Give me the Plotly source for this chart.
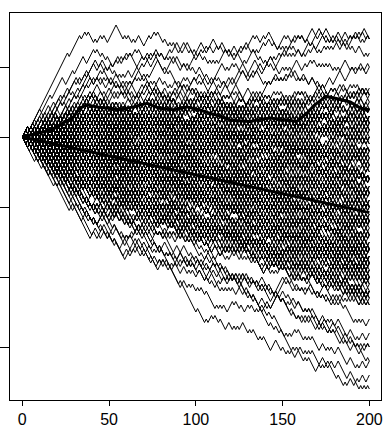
import plotly.graph_objects as go

# Each walk: hex digits, every digit = 4 steps (bit 1 = step up, bit 0 = step down, MSB first)
walk_steps_hex = [
    "7FFFFFDFB4 5A7C2963B4 4A2C96B34A 5B7A6C1E96 9E3615CAD2",
    "BFDF7E7BE7 A48D6C3B59 2A194C18B3 7A7C3EB6D2 7A2D59DB38",
    "EEB7DD7D7B C96EB5A2B5 3B9A2E5C61 3D8AEC957A 93E158A4C5",
    "EBDE7BDEB7 9C4835E412 C648D385B1 8184C9E422 C5716A9D38",
    "7CBD67BDEB 6A92C25E8A 96B3E5C7E5 A61B9E3D56 5B7A6C1E96",
    "DA7EBD6D7E 7A2D59DB38 48294A4153 A5194C7D24 5628A1C4A6",
    "BD67BDEB7C A4D2824815 386A852B95 6D2A95C4E3 C96EB5A2B5",
    "5EB5E7AD3D E1C5BDAB7C 3D8AEC957A C178924D48 A61B9E3D56",
    "77E9E2B5DB 4A2C96B34A A85C28463A 93E158A4C5 4B4A512C92",
    "3EEBA5DBD5 5A7C2963B4 5B7A6C1E96 9E3615CAD2 C648D385B1",
    "5E7AD3D5EB 2A194C18B3 6A92C25E8A 286A84492A A5194C7D24",
    "9E2B5DB77E 84841B4A26 A48D6C3B59 386A852B95 8184C9E422",
    "A9E3B565D7 7A2D59DB38 4A2C96B34A 93E158A4C5 3B9A2E5C61",
    "3EB6D27A7C C648D385B1 48294A4153 9C4835E412 6A92C25E8A",
    "5C7E596B3E C5716A9D38 C96EB5A2B5 E1C5BDAB7C 6D2A95C4E3",
    "3B565D7A9E 5628A1C4A6 A5194C7D24 5A7C2963B4 A4D2824815",
    "6D27A7C3EB 386A852B95 4A2C96B34A C178924D48 3D8AEC957A",
    "E596B3E5C7 482844815A 93E158A4C5 C648D385B1 A85C28463A",
    "CE1C5BDAB7 5D7A9E3B56 4B4A512C92 286A84492A 6A92C25E8A",
    "A61B9E3D56 A5194C7D24 2A194C18B3 5B7A6C1E96 84841B4A26",
    "A2D59DB387 C96EB5A2B5 9E3615CAD2 386A852B95 7A7C3EB6D2",
    "8AEC957A3D 8184C9E422 9C4835E412 4A2C96B34A 5628A1C4A6",
    "B9E3D56A61 A48D6C3B59 93E158A4C5 C178924D48 C648D385B1",
    "6C1E965B7A A85C28463A 7A2D59DB38 6A92C25E8A 4B4A512C92",
    "5A2B5C96EB A5194C7D24 48294A4153 2A194C18B3 386A852B95",
    "957A3D8AEC 96B3E5C7E5 4A2C96B34A A61B9E3D56 93E158A4C5",
    "E965B7A6C1 9C4835E412 5628A1C4A6 3B9A2E5C61 A4D2824815",
    "387A2D59DB C648D385B1 C5716A9D38 6A92C25E8A 6D2A95C4E3",
    "45A7C2963B A5194C7D24 C178924D48 386A852B95 4A2C96B34A",
    "9E3615CAD2 C96EB5A2B5 93E158A4C5 286A84492A A85C28463A",
    "48D6C3B59A 4B4A512C92 3D8AEC957A C648D385B1 A61B9E3D56",
    "9A2E5C613B 84841B4A26 6A92C25E8A 2A194C18B3 A5194C7D24",
    "16A9D38C57 6D2A95C4E3 9C4835E412 5B7A6C1E96 5628A1C4A6",
    "2963B45A7C E1C5BDAB7C 7A2D59DB38 386A852B95 4A2C96B34A",
    "5CAD29E361 93E158A4C5 8184C9E422 C648D385B1 48294A4153",
    "3B59A48D6C C178924D48 6A92C25E8A 5D7A9E3B56 A85C28463A",
    "C613B9A2E5 A5194C7D24 C5716A9D38 A4D2824815 386A852B95",
    "E36D2A95C4 C96EB5A2B5 4B4A512C92 4A2C96B34A 286A84492A",
    "963B45A7C2 2884E41882 93E158A4C5 C648D385B1 9E3615CAD2",
    "6A92C25E8A A48D6C3B59 A5194C7D24 2A194C18B3 3D8AEC957A",
    "86A852B953 9C4835E412 5628A1C4A6 4A2C96B34A C178924D48",
    "E158A4C593 A61B9E3D56 3B9A2E5C61 C648D385B1 6A92C25E8A",
    "94C7D24A51 386A852B95 84841B4A26 A85C28463A 4A2C96B34A",
    "58A4C593E1 8184C9E422 5B7A6C1E96 4B4A512C92 C648D385B1",
    "25E8A6A92C 7A7C3EB6D2 A5194C7D24 C5716A9D38 2A194C18B3",
    "2B95386A85 4A2C96B34A 93E158A4C5 48294A4153 9C4835E412",
    "5B1C648D38 6D2A95C4E3 5628A1C4A6 7A2D59DB38 6A92C25E8A",
    "24A5194C7D C178924D48 386A852B95 4A2C96B34A A4D2824815",
    "593E158A4C C648D385B1 96B3E5C7E5 A85C28463A 6A92C25E8A",
    "A5194C7D24 286A84492A 4B4A512C92 386A852B95 2A194C18B3",
    "A2C96B34A4 C96EB5A2B5 9C4835E412 84841B4A26 93E158A4C5",
    "28A1C4A656 C648D385B1 6A92C25E8A 5A7C2963B4 C178924D48",
    "C28463AA85 3D8AEC957A 8184C9E422 A5194C7D24 386A852B95",
    "512C924B4A 2A194C18B3 9E3615CAD2 9C4835E412 48294A4153",
    "1C4A65628A A48D6C3B59 4A2C96B34A E1C5BDAB7C 93E158A4C5",
    "4D48C17892 A4D2824815 A85C28463A C648D385B1 6A92C25E8A",
    "C924B4A512 5D7A9E3B56 A5194C7D24 2A194C18B3 9C4835E412",
    "A65628A1C4 386A852B95 C178924D48 286A84492A 3B9A2E5C61",
    "AA85C28463 4B4A512C92 A61B9E3D56 4A2C96B34A 2A194C18B3",
    "9C4835E412 C5716A9D38 5628A1C4A6 93E158A4C5 5B7A6C1E96",
    "178924D48C C648D385B1 6A92C25E8A A85C28463A 84841B4A26",
    "4A512C924B 84184C2843 A5194C7D24 6D2A95C4E3 2A194C18B3",
    "835E4129C4 7A2D59DB38 5A7C2963B4 386A852B95 5628A1C4A6",
    "C9E4228184 4A2C96B34A C178924D48 93E158A4C5 C648D385B1",
    "A415348294 C96EB5A2B5 6A92C25E8A A4D2824815 A85C28463A",
    "492A286A84 4B4A512C92 84841B4A26 A5194C7D24 2A194C18B3",
    "4228184C9E 9E3615CAD2 3D8AEC957A 9C4835E412 386A852B95",
    "5348294A41 A4D2824815 4A2C96B34A 5628A1C4A6 286A84492A",
    "684841B4A2 7A7C3EB6D2 C178924D48 A48D6C3B59 93E158A4C5",
    "8184C9E422 C648D385B1 6A92C25E8A 48294A4153 A5194C7D24",
    "4D2824815A A85C28463A 3B9A2E5C61 386A852B95 4B4A512C92",
    "6A84492A28 4A2C96B34A 84841B4A26 2A194C18B3 93E158A4C5",
    "4C9E422818 C5716A9D38 9C4835E412 A61B9E3D56 48294A4153",
    "824815A4D2 5B7A6C1E96 C648D385B1 6A92C25E8A 6D2A95C4E3",
    "4815A48284 A5194C7D24 5628A1C4A6 386A852B95 C178924D48",
    "18822884E4 96B3E5C7E5 5A7C2963B4 A85C28463A 4A2C96B34A",
    "84384184C2 4B4A512C92 93E158A4C5 A4D2824815 C648D385B1",
    "5A48284481 9E3615CAD2 84841B4A26 A48D6C3B59 2A194C18B3",
    "22884E4188 8184C9E422 6A92C25E8A 9C4835E412 48294A4153",
    "84184C2843 7A2D59DB38 A5194C7D24 386A852B95 5628A1C4A6",
    "82844815A4 4A2C96B34A C96EB5A2B5 A4D2824815 93E158A4C5",
    "84E4188228 C178924D48 A85C28463A C648D385B1 3B9A2E5C61",
    "84C2843841 C5716A9D38 6A92C25E8A 4B4A512C92 286A84492A",
    "44815A4828 2884E41882 2A194C18B3 A5194C7D24 9C4A35E612",
    "8412484812 386A852B95 4A2C96B34A 84841B4A26 5638A9C4A6",
    "4184281482 3D8AEC957A C178924D48 93E158A4C5 C648D385B1",
    "1248481284 A85C28463A 8184C9E422 4B4A512C92 2A194C18B3",
    "8428148241 6D2A95C4E3 6A92C25E8A A61B9E3D56 48294A4153",
    "4848128412 A4D2824815 286A84492A 9C4835E412 5628A1C4A6",
    "2814824184 E1C5BDAB7C A5194C7D24 C178924D48 386A852B95",
    "4812841248 4A2C96B34A A85C28463A 93E158A4C5 C648D385B1",
    "1482418428 4B4A512C92 5A7C2963B4 84841B4A26 5A85C9E45A",
    "1284124848 84184C2843 48294A4153 A4D2824815 2A194C18B3",
    "8408822810 9C4835E412 0010085A46 5628A1C4A6 286A84592A",
    "4801440812 9E3615CAD2 6A92C25E8A C178924D48 A48D6C3B59",
    "0882281084 84841B4A26 A5194C7D24 8184C9E422 A85C28463A",
    "0144081248 5B7A6C1E96 4B4A512C92 386A852B95 48294A4153",
    "8228108408 4A2C96B34A A4D2824815 482844815A 2A194C18B3",
    "8010201801 9C4835E412 93E158A4C5 5628A1C4A6 2884E41882",
    "2041080420 C648D385B1 C178924D48 6A92C25E8A A95C2A563A",
    "5BAD65EA95 A45B962AD5 5A6E59A15A 952AC75A46 5AD9A53B6A",
    "A579A45EA6 5A659AD53A A259BA5865 7A5D15AE95 5A94A56BA5",
    "E5A72B5AD9 59AD45A67A A15EA58B96 5A95A652A5 A5DA659A45",
    "5AE59A57A6 9A45D5A265 5BA856E5A1 A5A65B95A5 5A2A59E5A6",
    "D5A175A9E5 A54B5A25DA 59A5AE65A5 A85A7591A5 5AB5A5625A",
    "A752A5D95A 5A15E6A4B5 A5295AD58A 56A57A59A5 A59A15AB56",
    "5AD459A2E5 A51AB5645A 5EA58A759A A562A5DA59 5A5BA95A65",
    "A595EA56A5 52A5D9A54A AB51A57685 5AE954AD5A A56A5925A5",
    "5A795A6B5A A952AE5A15 5A5D6A58A5 4A752AB519 A5E25A98D5",
    "5A9E5A2A56 A54A759D52 5A85BA564A AE59A157A5 5A25DA958A",
    "A5B654AE5A 52A58DA519 A5A759A45A 5A1A5E952A A45BA58AD5",
    "5A45A752A9 A59AE5A515 5DA589AB5A A52A56A459 5A71A5E52A",
    "A52B5AD586 5A94A5EA15 A5A5625A95 5A7A59A54A A15AD59A25",
    "54A52AB58A A5E95A175A 5A2AD56A45 A595A85A65 5BA25A4E5A",
    "A5D25A94A5 58A57A519A A5E4A5B256 5A65A1A595 A45AB95A85",
    "5A6D5A95A5 A52A95A856 5A15EA54A9 A752A5D85A 52A45BA15A",
    "5A92AE54A5 A1B58AD52A 5A4A579A15 A525AD568A 5A59A54A56",
    "A54A59A25A 5EA15A8B5A A5D52A5A49 58A51BA52A A5A75A459A",
    "5AE59A15A5 A25AD45A85 5A715A952A A59A54A56A 51A5B8A54A",
    "A58AB59A25 5A45AE51A9 A529A5A58A 5DA45A72A5 A15A4D5A25",
    "5A2D58A54A A51A75A925 5A5A859A56 A45A95A15A 5AB52A54A9",
    "A5945AD51A 58A5EA254A A5A5B9A52A 5A1A595A85 A25A74A515",
    "5A52A95A45 A15AD58A25 5A45EA592A A5A958A5A5 54AB51A52A",
    "A59A52A565 5A754A51A9 A25A859A45 5A1AD5A256 A545A9A85A",
    "5A85B2A54A A5A5915A65 52AE5A458A A59A25A51A 5A4D58A529",
    "A452A758A1 5A5E2A594A A59A5A856A 51A54AB52A A5A2595A45",
    "5A9A45A52A A25DA85A15 5A4A752A85 A515A6A45A 58AE5A254A",
    "A54AD5925A 5A15A85A29 A45BA25A85 5A5A95A256 A154A7258A",
    "5A25A49A15 A85AE54A25 5A951A5A4A A257A85A45 5A5A29A585",
    "A51B5A452A 5A8A595A2A A45D2A5185 5A25EA54A9 A51A58A525",
    "5A4A5A925A A158A7524A 5A25D8A51A A54A52A985 52A5BA154A",
    "A451AB258A 5A95A25A4A A85AE15A25 5A51A9A585 A25A45A15A",
    "5A85A2594A A254DA158A 5A5A49A51A A52A785A45 51A5A29A45",
    "A52A4B51A5 5A8A545A29 A152AE458A 5A45A1A525 A59A85A52A",
    "52A85D4A15 A51A594A25 5A82A7541A A5A25A958A 54A5A15A29",
    "A452A58A15 5A15B2A54A A58A529A45 51A4E52A85 A5A945A52A",
    "54A152A854 A52DA45A15 5A85A15A2A A45A7258A5 5A2A54A519",
    "A59A25A54A 51A45B28A4 A52A585A1A 54AE152A85 A25A945A15",
    "5A254A158A A451AD852A 5A4A52A515 A85A259A4A 51A25B4A85",
    "A54A51A52A 52A85A451A A15A472A85 5A2A5849A5 A451EA258A",
    "58A2574A15 A51A52A549 54A58A251A A25A1D458A 5A415A2A85",
    "A1542B854A 5A25A85A1A A458AE152A 52A54A15A8 A5A452A515",
    "4A1528A452 5A84AD251A A52A5A458A 5A51A5A295 A4527A1854",
    "5A1A54A52A A2584AB154 5A451A2A58 A85A254A15 51A4AD258A",
    "A2541A582A 5A854A152A A15A4B258A 5A4A5A2519 A8514E2A45",
    "5A4A152A58 A258A7451A 5A15A8A425 A4521AD854 52A54A851A",
    "A14528A415 5A258A4A15 A54A525A8A 58A15E4A25 A45A152A85",
    "5A15D4A58A A5B25A8E5A 5A9A45A25A A25A751A59 5A5A65A8A5",
    "A52A5E945A 5A58A5A159 A45A2D5A15 5A25A954A5 A85BA251A5",
    "5A45A29A85 A15A725A45 5A2A51A54A A5A859A525 54A5E1A52A",
    "D5A7B5AE5A 5A95A6B5A5 A5E5A95A25 5A7A54A5BA A5A5D65A95",
    "5EA5B9AD5A A57A56AE59 5A25BA85A5 A59AD5A565 5B5A1AE59A",
    "B5EAD57AB5 A594A5E5A6 5A56AD5A95 A25A75A85A 5A95AB5A6A",
    "AD5A579AE5 5AB52A5DA9 A565EA59A5 5A5A94A56A A57A59A5A6",
    "57AD5AB5EA A52BA58E5A 5A95A15A65 A5D5A97A5A 5A4A5B95A5",
    "A5E5A95BA5 5DA572AE5A A5A859A5DA 5A6A5B5A95 A45AE5A259",
    "E5AB5DA579 5A65A2A59A A75A15AD5A 5A9EA545A6 A5B25A8A75",
    "5AB59EA5DA A585A6A75A 5DA45AE51A A5A925BA56 5A5EA95A65",
    "A597A5AD56 5ABA59A565 A54AD515A9 5EA52A75A5 A56A85DA59",
    "BA5E57A5D9 5A95A45EA5 A25A5BA856 5AD1A5E45A A5A67A5259",
    "5DA95BA5EA A515A7A459 5A65AE5A95 A5A259A565 5BA45AD85A",
    "A75A4E5AB5 5A9A5D658A A5A5B95A65 52A5EA51A9 A565A4A75A",
    "5A9A5D5A65 A5E5A9A5B6 5A857A52A5 A5A159AE5A 5D5A4AB529",
    "A57AD59A5E 5A52AB5A95 A54A5D5A86 5A95EA15A5 A5A56A259A",
    "5AD59AB5A6 A15A5E9A45 5A752A5DA9 A56AB5A585 5A45A7A259",
    "A5E9A257A5 5A65A5DA95 A5A459B5A6 58A5DA51A5 A59AE5A25A",
    "5BA5E9AD56 A5A95A45A6 5A72A5B85A A15A9D5A45 5A56A52A95",
    "A5B5A6E5A9 5A2A595DA5 A585AEA456 57A15AD52A A59A56A85A",
    "5A65EA59A5 A5A45B9A56 5DA51A75A9 A52A5B5A85 5A95A4A565",
    "5A9D5A57A6 A54AE5A259 5A5BA651A5 A56A585A9A 54A5DA952A",
    "AE5A759AB5 5A25AD58A6 A59A5A156A 54AB52A58A A5A659A45A",
    "5A59AB5A65 A5E5A2A59A 5A1A57A459 A565A58A95 52A5EA5A16",
    "A5DA59E5A6 5A954A5A65 A25AB15A85 5A6A75A259 A545A9A51A",
    "5A9B5A4A56 A5A5E95A65 58A5D5A1A9 A5A9525A6A 5A47A15A25",
    "4A12584A25 5A258A54A5 A45A15A529 5A85A952A5 A25A459A85",
    "24A18524A1 A51A54A585 5A4A25A15A A5A259A54A 58A5A15A2A",
    "A4521A58A4 52A54A158A A58A5A2545 5A15A4A52A A45A529A15",
    "8A412548A2 A52A458A15 5A5A19A54A A25A85A45A 5A451A5A29",
    "A24581A425 5A85A259A4 A154A52A85 5A52A45A1A A54A958A25",
    "41A824512A 5A42A51A58 A525A8A54A 54A5A159A2 A58A52A515",
    "241A824518 A54A51A52A 5A2A585A49 A15A54A25A 5A852A5A45",
    "84A2154A85 A2541A852A 5A154A2A85 A5A4529A15 52A5A85A4A",
    "12A485214A A58A1545A2 5A4A52A585 A15A42A585 5A25A45A19",
    "482A142851 5A2A4585A1 A451A528A5 5A8A545A2A A515A2A545",
    "2A8142584A 54A1258A45 A52A5A851A 5A45A25A89 A154A852A5",
    "1428A41258 A24581A54A 5A852A41A5 A54A515A2A 5A258A5A45",
    "82A418542A A51A254A85 54A58A152A A25A1458A5 5A485A251A",
    "52A41A5825 A5A154A58A 5A25A94A15 A45A85A25A 5A51A45A29",
    "A18452A415 52A58A415A A45A21A585 5A85A2A545 A51A54A25A",
    "428A14528A 584A215A45 A52A485A15 5A45A1A58A A25A54A515",
]

# straight thick line (average drift)
trend_steps = [0, 200]
trend_values = [0, -21.6]

# wavy thick line
thick_steps = [0, 5, 10, 15, 20, 25, 29, 33, 37, 43, 50, 56, 64, 72, 79, 87, 95,
               102, 108, 114, 120, 126, 131, 137, 143, 148, 154, 158, 164, 168,
               172, 175, 181, 189, 195, 200]
thick_values = [0, 0.6, 1.0, 1.8, 2.8, 4.4, 5.4, 8.2, 9.2, 8.6, 8.2, 7.8, 8.6, 9.6,
                8.2, 7.8, 8.6, 7.8, 6.8, 6.0, 4.8, 4.6, 4.4, 5.0, 5.4, 5.0, 4.8,
                4.4, 6.8, 9.0, 10.6, 11.6, 11.0, 10.0, 8.2, 7.8]

x_tick_values = [0, 50, 100, 150, 200]
x_tick_labels = ["0", "50", "100", "150", "200"]
y_tick_values = [-60, -40, -20, 0, 20]


def decode(hex_string):
    vals = [0]
    for ch in hex_string.replace(" ", ""):
        d = int(ch, 16)
        for k in (3, 2, 1, 0):
            vals.append(vals[-1] + (1 if (d >> k) & 1 else -1))
    return vals


xs, ys = [], []
for s in walk_steps_hex:
    v = decode(s)
    xs.extend(range(len(v)))
    ys.extend(v)
    xs.append(None)
    ys.append(None)

fig = go.Figure()
fig.add_trace(go.Scatter(x=xs, y=ys, mode="lines",
                         line=dict(color="black", width=1), hoverinfo="skip"))
fig.add_trace(go.Scatter(x=trend_steps, y=trend_values, mode="lines",
                         line=dict(color="black", width=3), hoverinfo="skip"))
fig.add_trace(go.Scatter(x=thick_steps, y=thick_values, mode="lines",
                         line=dict(color="black", width=3), hoverinfo="skip"))

fig.update_layout(
    width=387, height=426,
    margin=dict(l=10, r=6, t=13, b=26),
    plot_bgcolor="white", paper_bgcolor="white",
    showlegend=False,
)
fig.update_xaxes(
    range=[-7.1, 206.7], tickvals=x_tick_values, ticktext=x_tick_labels,
    ticks="outside", ticklen=5, tickcolor="black", tickwidth=1,
    showline=True, mirror=True, linecolor="black", linewidth=1,
    showgrid=False, zeroline=False, automargin=False,
    tickfont=dict(family="Liberation Sans, Arial, sans-serif", size=16, color="black"),
)
fig.update_yaxes(
    range=[-75.14, 35.43], tickvals=y_tick_values,
    ticks="outside", ticklen=10, tickcolor="black", tickwidth=1,
    showticklabels=False,
    showline=True, mirror=True, linecolor="black", linewidth=1,
    showgrid=False, zeroline=False, automargin=False,
)

fig.write_html("out.html", config={"displayModeBar": False})
